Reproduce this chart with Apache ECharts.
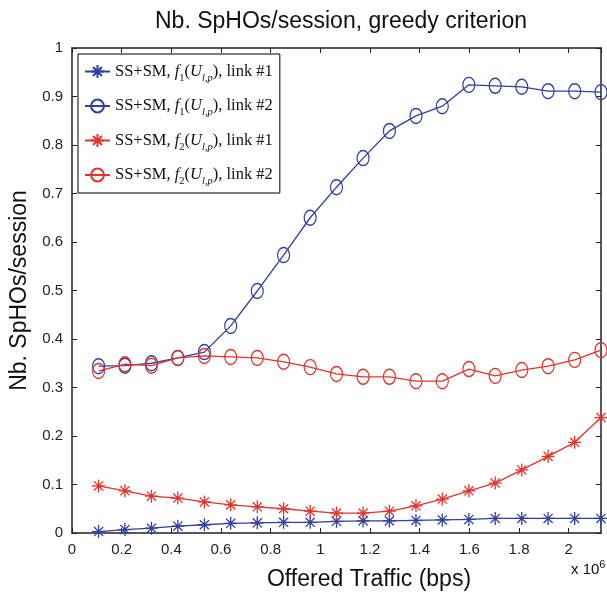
<!DOCTYPE html>
<html>
<head>
<meta charset="utf-8">
<script src="https://cdn.jsdelivr.net/npm/echarts@6/dist/echarts.min.js"></script>
<style>
  html, body { margin: 0; padding: 0; background: #fff; }
  #chart { width: 607px; height: 598px; }
</style>
</head>
<body>
<div id="chart"></div>
<script>
// offered traffic (x 10^6 bps)
const traffic = [0.107, 0.213, 0.32, 0.426, 0.533, 0.639, 0.746, 0.852, 0.959, 1.065,
  1.172, 1.278, 1.385, 1.491, 1.598, 1.704, 1.811, 1.917, 2.024, 2.13];

const f1Link1 = [0.003, 0.007, 0.01, 0.014, 0.017, 0.02, 0.021, 0.022, 0.022, 0.024,
  0.025, 0.025, 0.026, 0.027, 0.028, 0.03, 0.03, 0.03, 0.03, 0.03];
const f1Link2 = [0.344, 0.345, 0.35, 0.361, 0.373, 0.427, 0.499, 0.573, 0.65, 0.713,
  0.773, 0.829, 0.86, 0.88, 0.924, 0.922, 0.92, 0.911, 0.911, 0.909];
const f2Link1 = [0.097, 0.087, 0.076, 0.072, 0.064, 0.058, 0.054, 0.05, 0.045, 0.041,
  0.041, 0.045, 0.056, 0.07, 0.087, 0.103, 0.13, 0.158, 0.187, 0.238];
const f2Link2 = [0.334, 0.348, 0.345, 0.361, 0.365, 0.363, 0.361, 0.353, 0.342, 0.328,
  0.322, 0.322, 0.313, 0.313, 0.338, 0.324, 0.336, 0.344, 0.357, 0.377];

const BLUE = "#2f3fa3";
const RED = "#e3342b";
const AXIS = "#222";

const STAR = "path://M0,-1L0,1M-1,0L1,0M-0.7,-0.7L0.7,0.7M-0.7,0.7L0.7,-0.7";
const RING = "path://M0,-1A1,1 0 1,1 0,1A1,1 0 1,1 0,-1Z";

const legendText = {
  "f1 link1": "SS+SM, {i|f}{s|1}({i|U}{si|l,p}), link #1",
  "f1 link2": "SS+SM, {i|f}{s|1}({i|U}{si|l,p}), link #2",
  "f2 link1": "SS+SM, {i|f}{s|2}({i|U}{si|l,p}), link #1",
  "f2 link2": "SS+SM, {i|f}{s|2}({i|U}{si|l,p}), link #2",
};

const makeSeries = (name, values, color, ring) => ({
  name,
  type: "line",
  xAxisIndex: 0,
  yAxisIndex: 0,
  data: traffic.map((x, i) => [x, values[i]]),
  symbol: ring ? RING : STAR,
  symbolSize: ring ? [12, 15] : [13, 13],
  lineStyle: { color, width: 1.3 },
  itemStyle: {
    color: ring ? "rgba(255,255,255,0)" : color,
    borderColor: color,
    borderWidth: 1.3,
  },
});

const chart = echarts.init(document.getElementById("chart"));

const axisCommon = {
  axisLine: { show: true, onZero: false, lineStyle: { color: AXIS, width: 1.5 } },
  axisTick: { show: true, inside: true, length: 5, lineStyle: { color: AXIS, width: 1 } },
  splitLine: { show: false },
};

const subStyle = { fontFamily: "Liberation Serif", fontSize: 10.5, color: "#111", verticalAlign: "bottom", lineHeight: 24 };

const option = {
  animation: false,
  title: {
    text: "Nb. SpHOs/session, greedy criterion",
    left: 336,
    top: 5,
    textAlign: "center",
    textStyle: { fontFamily: "Liberation Sans", fontSize: 23, fontWeight: "normal", color: "#111" },
  },
  legend: {
    orient: "vertical",
    left: 78,
    top: 54,
    padding: [9, 7, 6, 6],
    itemGap: 14,
    itemWidth: 25,
    itemHeight: 16,
    backgroundColor: "#fff",
    borderColor: "#000",
    borderWidth: 1,
    borderRadius: 0,
    formatter: (name) => legendText[name],
    textStyle: {
      fontFamily: "Liberation Serif",
      fontSize: 16.5,
      color: "#111",
      rich: {
        i: { fontFamily: "Liberation Serif", fontStyle: "italic", fontSize: 16.5, color: "#111" },
        s: subStyle,
        si: { ...subStyle, fontStyle: "italic" },
      },
    },
  },
  grid: { left: 72, right: 6, top: 48, bottom: 65 },
  xAxis: [
    {
      ...axisCommon,
      type: "value",
      position: "bottom",
      min: 0,
      max: 2.13,
      interval: 0.2,
      axisLabel: { color: AXIS, fontSize: 15, fontFamily: "Liberation Sans", margin: 9, showMaxLabel: false },
    },
    {
      ...axisCommon,
      type: "value",
      position: "top",
      min: 0,
      max: 2.13,
      interval: 0.2,
      axisLabel: { show: false },
    },
  ],
  yAxis: [
    {
      ...axisCommon,
      type: "value",
      position: "left",
      min: 0,
      max: 1,
      interval: 0.1,
      axisLabel: { color: AXIS, fontSize: 15, fontFamily: "Liberation Sans", margin: 9 },
      name: "Nb. SpHOs/session",
      nameLocation: "middle",
      nameGap: 38,
      nameTextStyle: { color: "#111", fontSize: 23, fontFamily: "Liberation Sans" },
    },
    {
      ...axisCommon,
      type: "value",
      position: "right",
      min: 0,
      max: 1,
      interval: 0.1,
      axisLabel: { show: false },
    },
  ],
  graphic: [
    {
      // x-axis title, sits right of the plot centre in the original
      type: "text",
      x: 369,
      y: 568,
      style: {
        text: "Offered Traffic (bps)",
        fill: "#111",
        fontFamily: "Liberation Sans",
        fontSize: 23,
        align: "center",
        verticalAlign: "top",
      },
    },
    {
      type: "text",
      left: 571,
      top: 559,
      style: {
        text: "x 10{sup|6}",
        fill: "#111",
        fontFamily: "Liberation Sans",
        fontSize: 15,
        rich: { sup: { fontSize: 11, verticalAlign: "top", lineHeight: 22, fill: "#111" } },
      },
    },
  ],
  series: [
    makeSeries("f1 link1", f1Link1, BLUE, false),
    makeSeries("f1 link2", f1Link2, BLUE, true),
    makeSeries("f2 link1", f2Link1, RED, false),
    makeSeries("f2 link2", f2Link2, RED, true),
  ],
};

chart.setOption(option);
</script>
</body>
</html>
